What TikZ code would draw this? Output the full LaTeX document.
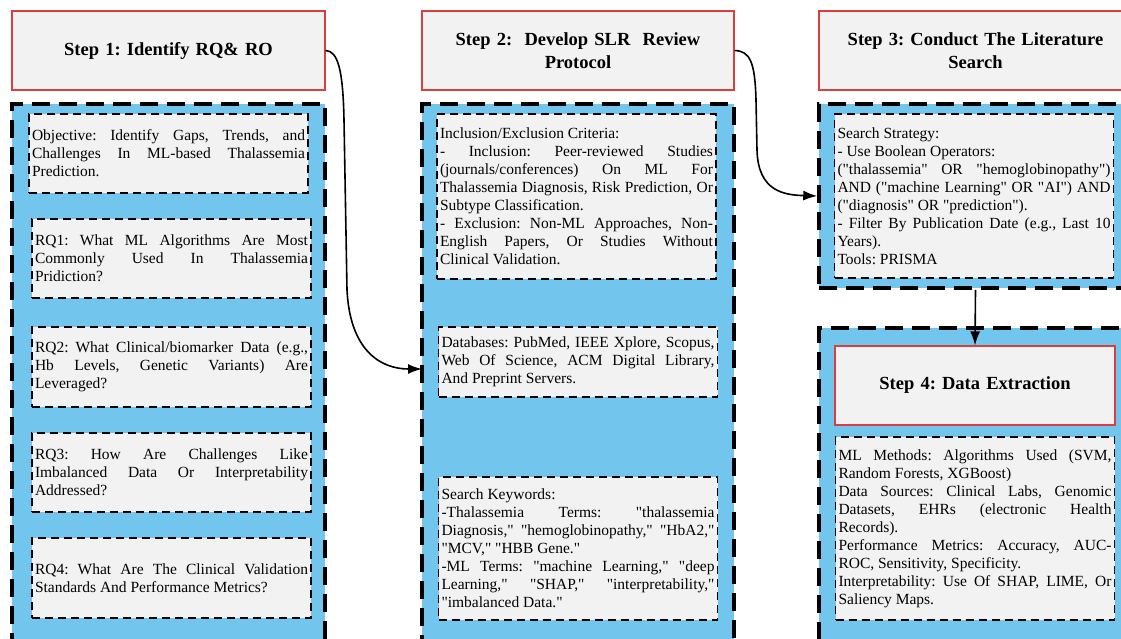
\documentclass[tikz,border=0pt]{standalone}
\usepackage{fontspec}
\setmainfont{Liberation Serif}[Ligatures=TeXOff]
\usetikzlibrary{arrows.meta}
\setlength{\parindent}{0pt}
\frenchspacing
\definecolor{panelblue}{RGB}{114,197,237}
\definecolor{headred}{RGB}{218,62,62}
\definecolor{boxgray}{RGB}{242,242,242}

\begin{document}
\begin{tikzpicture}[x=1pt, y=-1pt,
    stephead/.style={draw=headred, line width=1.2pt, fill=boxgray, minimum width=313pt, minimum height=79pt,
        text width=292pt, align=center, font=\fontsize{18.5pt}{22.5pt}\selectfont\bfseries},
    panel/.style={draw=black, fill=panelblue, line width=3.5pt, dash pattern=on 18pt off 9pt,
        minimum width=313pt, inner sep=0pt},
    infobox/.style={draw=black, fill=boxgray, line width=1.2pt, dash pattern=on 8pt off 5pt,
        inner xsep=3pt, text width=273pt, align=justify, font=\fontsize{15.5pt}{18pt}\selectfont},
    link/.style={line width=1.6pt, -{Latex[length=14pt,width=10pt]}}]
    \useasboundingbox (0,0) rectangle (1121,638);
    \clip (0,0) rectangle (1121,638);

    \node[panel, minimum height=546pt] (p1) at (168.5,377) {};
    \node[panel, minimum height=546pt, minimum width=312pt] (p2) at (578,377) {};
    \node[panel, minimum height=184pt] (p3) at (975.5,196) {};
    \node[panel, minimum height=322pt] (p4) at (975.5,489) {};

    \node[stephead] (s1) at (168.5,50.5) {Step 1: Identify RQ\& RO};
    \node[stephead, minimum width=312pt] (s2) at (578,50.5) {Step 2:\ \ Develop SLR\ \ Review\\Protocol};
    \node[stephead] (s3) at (975.5,50.5) {Step 3: Conduct The Literature\\Search};
    \node[stephead, minimum width=280pt, text width=260pt] (s4) at (975,385.5) {Step 4: Data Extraction};

    \node[infobox, minimum height=79pt] (obj) at (168.5,153.5) {Objective: Identify Gaps, Trends, and\linebreak
        Challenges In ML-based Thalassemia\linebreak Prediction.};
    \node[infobox, minimum height=79pt] (rq1) at (171.5,258.5) {RQ1: What ML Algorithms Are Most\linebreak
        Commonly Used In Thalassemia\linebreak Pridiction?};
    \node[infobox, minimum height=80pt] (rq2) at (171.5,367) {RQ2: What Clinical/biomarker Data (e.g.,\linebreak
        Hb Levels, Genetic Variants) Are\linebreak Leveraged?};
    \node[infobox, minimum height=79pt] (rq3) at (171.5,472.5) {RQ3: How Are Challenges Like\linebreak
        Imbalanced Data Or Interpretability\linebreak Addressed?};
    \node[infobox, minimum height=80pt] (rq4) at (171.5,578) {RQ4: What Are The Clinical Validation\linebreak
        Standards And Performance Metrics?};

    \node[infobox, minimum height=165pt] (crit) at (576.5,196.5) {Inclusion/Exclusion Criteria:\par
        - Inclusion: Peer-reviewed Studies\linebreak (journals/conferences) On ML For\linebreak
        Thalassemia Diagnosis, Risk Prediction, Or\linebreak Subtype Classification.\par
        - Exclusion: Non-ML Approaches, Non-\linebreak English Papers, Or Studies Without\linebreak
        Clinical Validation.};
    \node[infobox, minimum height=70pt] (db) at (578,362) {Databases: PubMed, IEEE Xplore, Scopus,\linebreak
        Web Of Science, ACM Digital Library,\linebreak And Preprint Servers.};
    \node[infobox, minimum height=143pt] (kw) at (578,548.5) {Search Keywords:\par
        -Thalassemia Terms: "thalassemia\linebreak Diagnosis," "hemoglobinopathy," "HbA2,"\linebreak
        "MCV," "HBB Gene."\par
        -ML Terms: "machine Learning," "deep\linebreak Learning," "SHAP," "interpretability,"\linebreak
        "imbalanced Data."};

    \node[infobox, minimum height=164pt] (strat) at (974,196) {Search Strategy:\par
        - Use Boolean Operators:\par
        ("thalassemia" OR "hemoglobinopathy")\linebreak AND ("machine Learning" OR "AI") AND\linebreak
        ("diagnosis" OR "prediction").\par
        - Filter By Publication Date (e.g., Last 10\linebreak Years).\par
        Tools: PRISMA};
    \node[infobox, minimum height=183pt] (extr) at (975,528.5) {ML Methods: Algorithms Used (SVM,\linebreak
        Random Forests, XGBoost)\par
        Data Sources: Clinical Labs, Genomic\linebreak Datasets, EHRs (electronic Health\linebreak Records).\par
        Performance Metrics: Accuracy, AUC-\linebreak ROC, Sensitivity, Specificity.\par
        Interpretability: Use Of SHAP, LIME, Or\linebreak Saliency Maps.};

    \coordinate (dbin) at (422,369);
    \draw[link] (s1.east) .. controls (338,51) and (343,70) .. (344,120) -- (347,290)
        .. controls (350,350) and (380,369) .. (dbin);
    \draw[link] (s2.east) .. controls (750,51) and (755,62) .. (756,100) -- (757,150)
        .. controls (758,192) and (785,195) .. (p3.west);
    \draw[link] (p3.south) -- (s4.north);
\end{tikzpicture}
\end{document}
